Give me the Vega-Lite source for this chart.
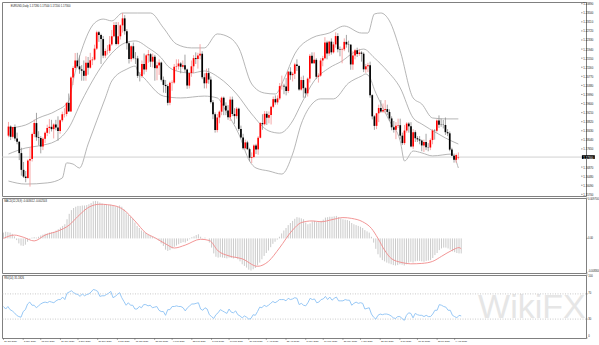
{
"$schema":"https://vega.github.io/schema/vega-lite/v6.json",
"background":"white",
"padding":{"left":1,"top":1,"right":0,"bottom":0},
"spacing":2,
"bounds":"flush",
"resolve":{"scale":{"x":"independent","y":"independent"}},
"config":{
 "view":{"stroke":"#808080","strokeWidth":1},
 "text":{"font":"Liberation Sans"}
},
"datasets":{
"bars":[
{"i":0,"open":1.1822,"high":1.1881,"low":1.1815,"close":1.1861,"macd":0.0014,"rsi":50},
{"i":1,"open":1.1861,"high":1.1866,"low":1.1803,"close":1.1817,"macd":0.0016,"rsi":46},
{"i":2,"open":1.1817,"high":1.1860,"low":1.1810,"close":1.1859,"macd":0.0015,"rsi":50},
{"i":3,"open":1.1859,"high":1.1870,"low":1.1800,"close":1.1810,"macd":0.0014,"rsi":45},
{"i":4,"open":1.1810,"high":1.1835,"low":1.1785,"close":1.1796,"macd":0.0011,"rsi":43},
{"i":5,"open":1.1796,"high":1.1797,"low":1.1717,"close":1.1747,"macd":0.0005,"rsi":40},
{"i":6,"open":1.1747,"high":1.1770,"low":1.1650,"close":1.1675,"macd":-0.0004,"rsi":36},
{"i":7,"open":1.1675,"high":1.1709,"low":1.1640,"close":1.1646,"macd":-0.0012,"rsi":34},
{"i":8,"open":1.1646,"high":1.1670,"low":1.1622,"close":1.1640,"macd":-0.0017,"rsi":33},
{"i":9,"open":1.1640,"high":1.1720,"low":1.1637,"close":1.1715,"macd":-0.0018,"rsi":42},
{"i":10,"open":1.1715,"high":1.1770,"low":1.1603,"close":1.1722,"macd":-0.0015,"rsi":45},
{"i":11,"open":1.1722,"high":1.1835,"low":1.1711,"close":1.1829,"macd":-0.0008,"rsi":54},
{"i":12,"open":1.1829,"high":1.1891,"low":1.1815,"close":1.1876,"macd":-0.0002,"rsi":57},
{"i":13,"open":1.1876,"high":1.1920,"low":1.1800,"close":1.1815,"macd":0.0002,"rsi":52},
{"i":14,"open":1.1815,"high":1.1841,"low":1.1780,"close":1.1812,"macd":0.0003,"rsi":52},
{"i":15,"open":1.1812,"high":1.1820,"low":1.1746,"close":1.1775,"macd":0.0002,"rsi":48},
{"i":16,"open":1.1775,"high":1.1815,"low":1.1760,"close":1.1809,"macd":0.0004,"rsi":51},
{"i":17,"open":1.1809,"high":1.1840,"low":1.1790,"close":1.1834,"macd":0.0007,"rsi":54},
{"i":18,"open":1.1834,"high":1.1869,"low":1.1820,"close":1.1855,"macd":0.0009,"rsi":56},
{"i":19,"open":1.1855,"high":1.1893,"low":1.1830,"close":1.1860,"macd":0.0011,"rsi":57},
{"i":20,"open":1.1860,"high":1.1890,"low":1.1840,"close":1.1850,"macd":0.0012,"rsi":56},
{"i":21,"open":1.1850,"high":1.1875,"low":1.1810,"close":1.1870,"macd":0.0014,"rsi":58},
{"i":22,"open":1.1870,"high":1.1890,"low":1.1845,"close":1.1857,"macd":0.0015,"rsi":57},
{"i":23,"open":1.1857,"high":1.1905,"low":1.1800,"close":1.1842,"macd":0.0016,"rsi":56},
{"i":24,"open":1.1842,"high":1.1892,"low":1.1830,"close":1.1888,"macd":0.0019,"rsi":59},
{"i":25,"open":1.1888,"high":1.1925,"low":1.1880,"close":1.1914,"macd":0.0022,"rsi":61},
{"i":26,"open":1.1914,"high":1.1940,"low":1.1900,"close":1.1915,"macd":0.0026,"rsi":61},
{"i":27,"open":1.1915,"high":1.1965,"low":1.1905,"close":1.1963,"macd":0.0030,"rsi":65},
{"i":28,"open":1.1963,"high":1.2003,"low":1.1925,"close":1.1926,"macd":0.0034,"rsi":61},
{"i":29,"open":1.1926,"high":1.2077,"low":1.1925,"close":1.2072,"macd":0.0046,"rsi":71},
{"i":30,"open":1.2072,"high":1.2120,"low":1.2040,"close":1.2113,"macd":0.0059,"rsi":73},
{"i":31,"open":1.2113,"high":1.2177,"low":1.2105,"close":1.2145,"macd":0.0068,"rsi":75},
{"i":32,"open":1.2145,"high":1.2178,"low":1.2114,"close":1.2120,"macd":0.0073,"rsi":72},
{"i":33,"open":1.2120,"high":1.2167,"low":1.2088,"close":1.2107,"macd":0.0076,"rsi":70},
{"i":34,"open":1.2107,"high":1.2125,"low":1.2058,"close":1.2101,"macd":0.0078,"rsi":69},
{"i":35,"open":1.2101,"high":1.2145,"low":1.2058,"close":1.2079,"macd":0.0078,"rsi":66},
{"i":36,"open":1.2079,"high":1.2163,"low":1.2058,"close":1.2135,"macd":0.0079,"rsi":70},
{"i":37,"open":1.2135,"high":1.2160,"low":1.2084,"close":1.2114,"macd":0.0079,"rsi":67},
{"i":38,"open":1.2114,"high":1.2178,"low":1.2110,"close":1.2146,"macd":0.0080,"rsi":69},
{"i":39,"open":1.2146,"high":1.2160,"low":1.2125,"close":1.2149,"macd":0.0082,"rsi":70},
{"i":40,"open":1.2149,"high":1.2213,"low":1.2145,"close":1.2196,"macd":0.0085,"rsi":73},
{"i":41,"open":1.2196,"high":1.2273,"low":1.2190,"close":1.2266,"macd":0.0089,"rsi":77},
{"i":42,"open":1.2266,"high":1.2272,"low":1.2225,"close":1.2255,"macd":0.0090,"rsi":76},
{"i":43,"open":1.2255,"high":1.2260,"low":1.2130,"close":1.2237,"macd":0.0089,"rsi":74},
{"i":44,"open":1.2237,"high":1.2250,"low":1.2155,"close":1.2166,"macd":0.0086,"rsi":66},
{"i":45,"open":1.2166,"high":1.2196,"low":1.2155,"close":1.2186,"macd":0.0084,"rsi":67},
{"i":46,"open":1.2186,"high":1.2211,"low":1.2170,"close":1.2187,"macd":0.0082,"rsi":67},
{"i":47,"open":1.2187,"high":1.2250,"low":1.2177,"close":1.2214,"macd":0.0081,"rsi":69},
{"i":48,"open":1.2214,"high":1.2276,"low":1.2208,"close":1.2249,"macd":0.0080,"rsi":71},
{"i":49,"open":1.2249,"high":1.2310,"low":1.2245,"close":1.2298,"macd":0.0081,"rsi":74},
{"i":50,"open":1.2298,"high":1.2310,"low":1.2210,"close":1.2216,"macd":0.0078,"rsi":64},
{"i":51,"open":1.2216,"high":1.2310,"low":1.2210,"close":1.2249,"macd":0.0077,"rsi":66},
{"i":52,"open":1.2249,"high":1.2300,"low":1.2235,"close":1.2296,"macd":0.0077,"rsi":69},
{"i":53,"open":1.2296,"high":1.2349,"low":1.2265,"close":1.2326,"macd":0.0079,"rsi":72},
{"i":54,"open":1.2326,"high":1.2340,"low":1.2256,"close":1.2271,"macd":0.0076,"rsi":64},
{"i":55,"open":1.2271,"high":1.2280,"low":1.2192,"close":1.2219,"macd":0.0070,"rsi":58},
{"i":56,"open":1.2219,"high":1.2223,"low":1.2132,"close":1.2151,"macd":0.0062,"rsi":52},
{"i":57,"open":1.2151,"high":1.2210,"low":1.2140,"close":1.2206,"macd":0.0057,"rsi":56},
{"i":58,"open":1.2206,"high":1.2222,"low":1.2150,"close":1.2155,"macd":0.0052,"rsi":52},
{"i":59,"open":1.2155,"high":1.2181,"low":1.2130,"close":1.2154,"macd":0.0047,"rsi":52},
{"i":60,"open":1.2154,"high":1.2165,"low":1.2070,"close":1.2079,"macd":0.0038,"rsi":46},
{"i":61,"open":1.2079,"high":1.2095,"low":1.2055,"close":1.2078,"macd":0.0030,"rsi":46},
{"i":62,"open":1.2078,"high":1.2145,"low":1.2070,"close":1.2130,"macd":0.0025,"rsi":50},
{"i":63,"open":1.2130,"high":1.2175,"low":1.2085,"close":1.2106,"macd":0.0019,"rsi":48},
{"i":64,"open":1.2106,"high":1.2172,"low":1.2096,"close":1.2167,"macd":0.0016,"rsi":53},
{"i":65,"open":1.2167,"high":1.2190,"low":1.2135,"close":1.2172,"macd":0.0013,"rsi":53},
{"i":66,"open":1.2172,"high":1.2177,"low":1.2117,"close":1.2140,"macd":0.0009,"rsi":51},
{"i":67,"open":1.2140,"high":1.2175,"low":1.2115,"close":1.2161,"macd":0.0007,"rsi":52},
{"i":68,"open":1.2161,"high":1.2169,"low":1.2058,"close":1.2112,"macd":0.0004,"rsi":48},
{"i":69,"open":1.2112,"high":1.2140,"low":1.2060,"close":1.2124,"macd":0.0002,"rsi":49},
{"i":70,"open":1.2124,"high":1.2150,"low":1.2083,"close":1.2136,"macd":0.0001,"rsi":50},
{"i":71,"open":1.2136,"high":1.2140,"low":1.2055,"close":1.2062,"macd":-0.0005,"rsi":44},
{"i":72,"open":1.2062,"high":1.2076,"low":1.2007,"close":1.2040,"macd":-0.0012,"rsi":42},
{"i":73,"open":1.2040,"high":1.2061,"low":1.2005,"close":1.2035,"macd":-0.0018,"rsi":42},
{"i":74,"open":1.2035,"high":1.2043,"low":1.1952,"close":1.1963,"macd":-0.0027,"rsi":36},
{"i":75,"open":1.1963,"high":1.2055,"low":1.1953,"close":1.2049,"macd":-0.0030,"rsi":45},
{"i":76,"open":1.2049,"high":1.2060,"low":1.2015,"close":1.2050,"macd":-0.0028,"rsi":45},
{"i":77,"open":1.2050,"high":1.2130,"low":1.2045,"close":1.2118,"macd":-0.0024,"rsi":50},
{"i":78,"open":1.2118,"high":1.2150,"low":1.2100,"close":1.2120,"macd":-0.0020,"rsi":50},
{"i":79,"open":1.2120,"high":1.2150,"low":1.2106,"close":1.2132,"macd":-0.0017,"rsi":51},
{"i":80,"open":1.2132,"high":1.2138,"low":1.2090,"close":1.2118,"macd":-0.0014,"rsi":50},
{"i":81,"open":1.2118,"high":1.2145,"low":1.2110,"close":1.2125,"macd":-0.0011,"rsi":50},
{"i":82,"open":1.2125,"high":1.2170,"low":1.2095,"close":1.2106,"macd":-0.0009,"rsi":48},
{"i":83,"open":1.2106,"high":1.2110,"low":1.2023,"close":1.2037,"macd":-0.0010,"rsi":43},
{"i":84,"open":1.2037,"high":1.2093,"low":1.2025,"close":1.2091,"macd":-0.0006,"rsi":48},
{"i":85,"open":1.2091,"high":1.2145,"low":1.2075,"close":1.2120,"macd":-0.0002,"rsi":51},
{"i":86,"open":1.2120,"high":1.2168,"low":1.2090,"close":1.2155,"macd":0.0003,"rsi":54},
{"i":87,"open":1.2155,"high":1.2180,"low":1.2130,"close":1.2151,"macd":0.0005,"rsi":54},
{"i":88,"open":1.2151,"high":1.2178,"low":1.2110,"close":1.2166,"macd":0.0008,"rsi":55},
{"i":89,"open":1.2166,"high":1.2215,"low":1.2150,"close":1.2174,"macd":0.0010,"rsi":56},
{"i":90,"open":1.2174,"high":1.2185,"low":1.2065,"close":1.2073,"macd":0.0004,"rsi":46},
{"i":91,"open":1.2073,"high":1.2090,"low":1.2025,"close":1.2047,"macd":0.0001,"rsi":44},
{"i":92,"open":1.2047,"high":1.2110,"low":1.2025,"close":1.2091,"macd":0.0002,"rsi":48},
{"i":93,"open":1.2091,"high":1.2112,"low":1.2045,"close":1.2063,"macd":0.0000,"rsi":46},
{"i":94,"open":1.2063,"high":1.2076,"low":1.1960,"close":1.1966,"macd":-0.0010,"rsi":37},
{"i":95,"open":1.1966,"high":1.1975,"low":1.1893,"close":1.1914,"macd":-0.0022,"rsi":34},
{"i":96,"open":1.1914,"high":1.1922,"low":1.1835,"close":1.1846,"macd":-0.0036,"rsi":31},
{"i":97,"open":1.1846,"high":1.1915,"low":1.1836,"close":1.1900,"macd":-0.0044,"rsi":37},
{"i":98,"open":1.1900,"high":1.1930,"low":1.1875,"close":1.1925,"macd":-0.0046,"rsi":40},
{"i":99,"open":1.1925,"high":1.1990,"low":1.1910,"close":1.1985,"macd":-0.0045,"rsi":45},
{"i":100,"open":1.1985,"high":1.1990,"low":1.1910,"close":1.1951,"macd":-0.0046,"rsi":43},
{"i":101,"open":1.1951,"high":1.1965,"low":1.1910,"close":1.1930,"macd":-0.0047,"rsi":41},
{"i":102,"open":1.1930,"high":1.1953,"low":1.1890,"close":1.1901,"macd":-0.0048,"rsi":39},
{"i":103,"open":1.1901,"high":1.1990,"low":1.1885,"close":1.1977,"macd":-0.0046,"rsi":46},
{"i":104,"open":1.1977,"high":1.1990,"low":1.1906,"close":1.1915,"macd":-0.0047,"rsi":41},
{"i":105,"open":1.1915,"high":1.1940,"low":1.1873,"close":1.1906,"macd":-0.0048,"rsi":40},
{"i":106,"open":1.1906,"high":1.1945,"low":1.1895,"close":1.1938,"macd":-0.0047,"rsi":43},
{"i":107,"open":1.1938,"high":1.1942,"low":1.1843,"close":1.1851,"macd":-0.0050,"rsi":37},
{"i":108,"open":1.1851,"high":1.1865,"low":1.1810,"close":1.1814,"macd":-0.0055,"rsi":35},
{"i":109,"open":1.1814,"high":1.1830,"low":1.1762,"close":1.1768,"macd":-0.0062,"rsi":32},
{"i":110,"open":1.1768,"high":1.1805,"low":1.1763,"close":1.1793,"macd":-0.0066,"rsi":35},
{"i":111,"open":1.1793,"high":1.1800,"low":1.1760,"close":1.1764,"macd":-0.0070,"rsi":33},
{"i":112,"open":1.1764,"high":1.1770,"low":1.1712,"close":1.1727,"macd":-0.0075,"rsi":30},
{"i":113,"open":1.1727,"high":1.1750,"low":1.1704,"close":1.1730,"macd":-0.0077,"rsi":31},
{"i":114,"open":1.1730,"high":1.1785,"low":1.1725,"close":1.1780,"macd":-0.0074,"rsi":37},
{"i":115,"open":1.1780,"high":1.1787,"low":1.1743,"close":1.1763,"macd":-0.0071,"rsi":36},
{"i":116,"open":1.1763,"high":1.1820,"low":1.1740,"close":1.1813,"macd":-0.0065,"rsi":42},
{"i":117,"open":1.1813,"high":1.1880,"low":1.1810,"close":1.1876,"macd":-0.0058,"rsi":49},
{"i":118,"open":1.1876,"high":1.1914,"low":1.1847,"close":1.1871,"macd":-0.0050,"rsi":48},
{"i":119,"open":1.1871,"high":1.1928,"low":1.1865,"close":1.1916,"macd":-0.0042,"rsi":52},
{"i":120,"open":1.1916,"high":1.1927,"low":1.1868,"close":1.1899,"macd":-0.0035,"rsi":50},
{"i":121,"open":1.1899,"high":1.1926,"low":1.1875,"close":1.1911,"macd":-0.0029,"rsi":52},
{"i":122,"open":1.1911,"high":1.1950,"low":1.1870,"close":1.1946,"macd":-0.0021,"rsi":55},
{"i":123,"open":1.1946,"high":1.1990,"low":1.1940,"close":1.1979,"macd":-0.0013,"rsi":58},
{"i":124,"open":1.1979,"high":1.1995,"low":1.1955,"close":1.1965,"macd":-0.0008,"rsi":56},
{"i":125,"open":1.1965,"high":1.1995,"low":1.1955,"close":1.1982,"macd":-0.0003,"rsi":58},
{"i":126,"open":1.1982,"high":1.2048,"low":1.1975,"close":1.2035,"macd":0.0004,"rsi":61},
{"i":127,"open":1.2035,"high":1.2080,"low":1.2020,"close":1.2036,"macd":0.0012,"rsi":61},
{"i":128,"open":1.2036,"high":1.2045,"low":1.2000,"close":1.2033,"macd":0.0019,"rsi":61},
{"i":129,"open":1.2033,"high":1.2070,"low":1.1995,"close":1.2014,"macd":0.0025,"rsi":59},
{"i":130,"open":1.2014,"high":1.2100,"low":1.2005,"close":1.2097,"macd":0.0032,"rsi":63},
{"i":131,"open":1.2097,"high":1.2116,"low":1.2062,"close":1.2082,"macd":0.0037,"rsi":61},
{"i":132,"open":1.2082,"high":1.2095,"low":1.2055,"close":1.2088,"macd":0.0042,"rsi":62},
{"i":133,"open":1.2088,"high":1.2135,"low":1.2065,"close":1.2128,"macd":0.0047,"rsi":64},
{"i":134,"open":1.2128,"high":1.2150,"low":1.2100,"close":1.2121,"macd":0.0051,"rsi":63},
{"i":135,"open":1.2121,"high":1.2125,"low":1.2015,"close":1.2020,"macd":0.0050,"rsi":53},
{"i":136,"open":1.2020,"high":1.2075,"low":1.2015,"close":1.2061,"macd":0.0048,"rsi":55},
{"i":137,"open":1.2061,"high":1.2080,"low":1.1985,"close":1.2026,"macd":0.0046,"rsi":52},
{"i":138,"open":1.2026,"high":1.2030,"low":1.1985,"close":1.2004,"macd":0.0038,"rsi":51},
{"i":139,"open":1.2004,"high":1.2072,"low":1.1990,"close":1.2067,"macd":0.0034,"rsi":56},
{"i":140,"open":1.2067,"high":1.2173,"low":1.2050,"close":1.2165,"macd":0.0036,"rsi":63},
{"i":141,"open":1.2165,"high":1.2180,"low":1.2130,"close":1.2133,"macd":0.0041,"rsi":61},
{"i":142,"open":1.2133,"high":1.2180,"low":1.2130,"close":1.2148,"macd":0.0042,"rsi":62},
{"i":143,"open":1.2148,"high":1.2155,"low":1.2065,"close":1.2075,"macd":0.0040,"rsi":56},
{"i":144,"open":1.2075,"high":1.2090,"low":1.2050,"close":1.2080,"macd":0.0039,"rsi":57},
{"i":145,"open":1.2080,"high":1.2155,"low":1.2075,"close":1.2145,"macd":0.0042,"rsi":61},
{"i":146,"open":1.2145,"high":1.2165,"low":1.2120,"close":1.2155,"macd":0.0045,"rsi":62},
{"i":147,"open":1.2155,"high":1.2245,"low":1.2150,"close":1.2222,"macd":0.0050,"rsi":66},
{"i":148,"open":1.2222,"high":1.2230,"low":1.2150,"close":1.2175,"macd":0.0051,"rsi":61},
{"i":149,"open":1.2175,"high":1.2230,"low":1.2165,"close":1.2226,"macd":0.0052,"rsi":65},
{"i":150,"open":1.2226,"high":1.2240,"low":1.2170,"close":1.2180,"macd":0.0052,"rsi":60},
{"i":151,"open":1.2180,"high":1.2225,"low":1.2175,"close":1.2214,"macd":0.0053,"rsi":63},
{"i":152,"open":1.2214,"high":1.2266,"low":1.2200,"close":1.2250,"macd":0.0054,"rsi":65},
{"i":153,"open":1.2250,"high":1.2262,"low":1.2180,"close":1.2193,"macd":0.0051,"rsi":59},
{"i":154,"open":1.2193,"high":1.2205,"low":1.2163,"close":1.2191,"macd":0.0048,"rsi":59},
{"i":155,"open":1.2191,"high":1.2200,"low":1.2133,"close":1.2193,"macd":0.0046,"rsi":59},
{"i":156,"open":1.2193,"high":1.2240,"low":1.2185,"close":1.2225,"macd":0.0045,"rsi":61},
{"i":157,"open":1.2225,"high":1.2255,"low":1.2200,"close":1.2214,"macd":0.0044,"rsi":60},
{"i":158,"open":1.2214,"high":1.2230,"low":1.2180,"close":1.2213,"macd":0.0042,"rsi":60},
{"i":159,"open":1.2213,"high":1.2215,"low":1.2105,"close":1.2128,"macd":0.0037,"rsi":52},
{"i":160,"open":1.2128,"high":1.2185,"low":1.2105,"close":1.2166,"macd":0.0034,"rsi":55},
{"i":161,"open":1.2166,"high":1.2195,"low":1.2150,"close":1.2189,"macd":0.0032,"rsi":57},
{"i":162,"open":1.2189,"high":1.2200,"low":1.2160,"close":1.2173,"macd":0.0030,"rsi":55},
{"i":163,"open":1.2173,"high":1.2195,"low":1.2165,"close":1.2179,"macd":0.0028,"rsi":56},
{"i":164,"open":1.2179,"high":1.2185,"low":1.2140,"close":1.2174,"macd":0.0025,"rsi":55},
{"i":165,"open":1.2174,"high":1.2180,"low":1.2095,"close":1.2107,"macd":0.0020,"rsi":46},
{"i":166,"open":1.2107,"high":1.2130,"low":1.2092,"close":1.2120,"macd":0.0017,"rsi":47},
{"i":167,"open":1.2120,"high":1.2135,"low":1.2095,"close":1.2125,"macd":0.0014,"rsi":48},
{"i":168,"open":1.2125,"high":1.2140,"low":1.1985,"close":1.1996,"macd":0.0004,"rsi":38},
{"i":169,"open":1.1996,"high":1.2000,"low":1.1892,"close":1.1905,"macd":-0.0010,"rsi":33},
{"i":170,"open":1.1905,"high":1.1910,"low":1.1847,"close":1.1864,"macd":-0.0025,"rsi":30},
{"i":171,"open":1.1864,"high":1.1920,"low":1.1850,"close":1.1918,"macd":-0.0038,"rsi":36},
{"i":172,"open":1.1918,"high":1.1955,"low":1.1880,"close":1.1941,"macd":-0.0046,"rsi":38},
{"i":173,"open":1.1941,"high":1.1975,"low":1.1920,"close":1.1926,"macd":-0.0052,"rsi":37},
{"i":174,"open":1.1926,"high":1.1960,"low":1.1920,"close":1.1932,"macd":-0.0055,"rsi":38},
{"i":175,"open":1.1932,"high":1.1975,"low":1.1918,"close":1.1936,"macd":-0.0058,"rsi":38},
{"i":176,"open":1.1936,"high":1.1955,"low":1.1910,"close":1.1924,"macd":-0.0060,"rsi":37},
{"i":177,"open":1.1924,"high":1.1935,"low":1.1885,"close":1.1896,"macd":-0.0062,"rsi":35},
{"i":178,"open":1.1896,"high":1.1905,"low":1.1845,"close":1.1858,"macd":-0.0064,"rsi":32},
{"i":179,"open":1.1858,"high":1.1885,"low":1.1835,"close":1.1847,"macd":-0.0065,"rsi":31},
{"i":180,"open":1.1847,"high":1.1880,"low":1.1807,"close":1.1865,"macd":-0.0064,"rsi":34},
{"i":181,"open":1.1865,"high":1.1895,"low":1.1855,"close":1.1867,"macd":-0.0062,"rsi":34},
{"i":182,"open":1.1867,"high":1.1895,"low":1.1806,"close":1.1822,"macd":-0.0063,"rsi":31},
{"i":183,"open":1.1822,"high":1.1835,"low":1.1782,"close":1.1790,"macd":-0.0065,"rsi":28},
{"i":184,"open":1.1790,"high":1.1868,"low":1.1782,"close":1.1844,"macd":-0.0062,"rsi":36},
{"i":185,"open":1.1844,"high":1.1880,"low":1.1835,"close":1.1874,"macd":-0.0058,"rsi":40},
{"i":186,"open":1.1874,"high":1.1880,"low":1.1835,"close":1.1862,"macd":-0.0056,"rsi":39},
{"i":187,"open":1.1862,"high":1.1880,"low":1.1772,"close":1.1775,"macd":-0.0058,"rsi":32},
{"i":188,"open":1.1775,"high":1.1850,"low":1.1765,"close":1.1837,"macd":-0.0055,"rsi":39},
{"i":189,"open":1.1837,"high":1.1845,"low":1.1795,"close":1.1811,"macd":-0.0054,"rsi":37},
{"i":190,"open":1.1811,"high":1.1820,"low":1.1795,"close":1.1806,"macd":-0.0054,"rsi":36},
{"i":191,"open":1.1806,"high":1.1820,"low":1.1785,"close":1.1801,"macd":-0.0055,"rsi":36},
{"i":192,"open":1.1801,"high":1.1805,"low":1.1755,"close":1.1780,"macd":-0.0056,"rsi":34},
{"i":193,"open":1.1780,"high":1.1805,"low":1.1752,"close":1.1795,"macd":-0.0054,"rsi":36},
{"i":194,"open":1.1795,"high":1.1830,"low":1.1760,"close":1.1772,"macd":-0.0053,"rsi":34},
{"i":195,"open":1.1772,"high":1.1790,"low":1.1755,"close":1.1771,"macd":-0.0052,"rsi":34},
{"i":196,"open":1.1771,"high":1.1810,"low":1.1760,"close":1.1803,"macd":-0.0047,"rsi":38},
{"i":197,"open":1.1803,"high":1.1850,"low":1.1785,"close":1.1844,"macd":-0.0040,"rsi":44},
{"i":198,"open":1.1844,"high":1.1850,"low":1.1805,"close":1.1843,"macd":-0.0035,"rsi":44},
{"i":199,"open":1.1843,"high":1.1892,"low":1.1835,"close":1.1887,"macd":-0.0028,"rsi":53},
{"i":200,"open":1.1887,"high":1.1909,"low":1.1855,"close":1.1869,"macd":-0.0024,"rsi":52},
{"i":201,"open":1.1870,"high":1.1895,"low":1.1860,"close":1.1869,"macd":-0.0022,"rsi":50},
{"i":202,"open":1.1869,"high":1.1890,"low":1.1853,"close":1.1868,"macd":-0.0022,"rsi":49},
{"i":203,"open":1.1868,"high":1.1900,"low":1.1825,"close":1.1837,"macd":-0.0024,"rsi":44},
{"i":204,"open":1.1837,"high":1.1850,"low":1.1820,"close":1.1832,"macd":-0.0027,"rsi":44},
{"i":205,"open":1.1832,"high":1.1840,"low":1.1755,"close":1.1762,"macd":-0.0031,"rsi":36},
{"i":206,"open":1.1762,"high":1.1770,"low":1.1734,"close":1.1736,"macd":-0.0033,"rsi":34},
{"i":207,"open":1.1736,"high":1.1745,"low":1.1706,"close":1.1718,"macd":-0.0035,"rsi":32},
{"i":208,"open":1.1718,"high":1.1745,"low":1.1705,"close":1.1739,"macd":-0.0036,"rsi":36},
{"i":209,"open":1.1728,"high":1.1750,"low":1.1720,"close":1.1730,"macd":-0.0036,"rsi":35}
],
"bands":[
{"i":0,"band":"upper","v":1.1855},{"i":8,"band":"upper","v":1.1868},{"i":14,"band":"upper","v":1.1898},{"i":22,"band":"upper","v":1.1928},{"i":28,"band":"upper","v":1.1971},{"i":30,"band":"upper","v":1.2057},{"i":34,"band":"upper","v":1.2190},{"i":40,"band":"upper","v":1.2306},{"i":44,"band":"upper","v":1.2323},{"i":48,"band":"upper","v":1.2315},{"i":53,"band":"upper","v":1.2349},{"i":60,"band":"upper","v":1.2349},{"i":66,"band":"upper","v":1.2349},{"i":72,"band":"upper","v":1.2285},{"i":78,"band":"upper","v":1.2216},{"i":85,"band":"upper","v":1.2199},{"i":91,"band":"upper","v":1.2199},{"i":97,"band":"upper","v":1.2259},{"i":103,"band":"upper","v":1.2242},{"i":107,"band":"upper","v":1.2199},{"i":113,"band":"upper","v":1.2044},{"i":119,"band":"upper","v":1.2005},{"i":124,"band":"upper","v":1.2001},{"i":128,"band":"upper","v":1.2065},{"i":133,"band":"upper","v":1.2173},{"i":141,"band":"upper","v":1.2242},{"i":149,"band":"upper","v":1.2263},{"i":156,"band":"upper","v":1.2293},{"i":164,"band":"upper","v":1.2263},{"i":167,"band":"upper","v":1.2263},{"i":170,"band":"upper","v":1.2345},{"i":173,"band":"upper","v":1.2349},{"i":177,"band":"upper","v":1.2315},{"i":182,"band":"upper","v":1.2186},{"i":188,"band":"upper","v":1.1984},{"i":192,"band":"upper","v":1.1958},{"i":197,"band":"upper","v":1.1898},{"i":203,"band":"upper","v":1.1894},{"i":209,"band":"upper","v":1.1894},
{"i":0,"band":"middle","v":1.1743},{"i":8,"band":"middle","v":1.1769},{"i":14,"band":"middle","v":1.1778},{"i":22,"band":"middle","v":1.1799},{"i":28,"band":"middle","v":1.1855},{"i":34,"band":"middle","v":1.1971},{"i":44,"band":"middle","v":1.2130},{"i":49,"band":"middle","v":1.2186},{"i":54,"band":"middle","v":1.2220},{"i":59,"band":"middle","v":1.2229},{"i":65,"band":"middle","v":1.2199},{"i":71,"band":"middle","v":1.2156},{"i":74,"band":"middle","v":1.2121},{"i":78,"band":"middle","v":1.2100},{"i":85,"band":"middle","v":1.2091},{"i":91,"band":"middle","v":1.2100},{"i":98,"band":"middle","v":1.2070},{"i":106,"band":"middle","v":1.2001},{"i":113,"band":"middle","v":1.1915},{"i":121,"band":"middle","v":1.1842},{"i":126,"band":"middle","v":1.1833},{"i":132,"band":"middle","v":1.1885},{"i":136,"band":"middle","v":1.1958},{"i":142,"band":"middle","v":1.2057},{"i":149,"band":"middle","v":1.2113},{"i":155,"band":"middle","v":1.2143},{"i":160,"band":"middle","v":1.2177},{"i":165,"band":"middle","v":1.2194},{"i":170,"band":"middle","v":1.2156},{"i":176,"band":"middle","v":1.2100},{"i":182,"band":"middle","v":1.2027},{"i":188,"band":"middle","v":1.1898},{"i":192,"band":"middle","v":1.1872},{"i":199,"band":"middle","v":1.1833},{"i":203,"band":"middle","v":1.1812},{"i":209,"band":"middle","v":1.1786},
{"i":0,"band":"lower","v":1.1627},{"i":8,"band":"lower","v":1.1614},{"i":18,"band":"lower","v":1.1619},{"i":25,"band":"lower","v":1.1640},{"i":27,"band":"lower","v":1.1705},{"i":30,"band":"lower","v":1.1700},{"i":33,"band":"lower","v":1.1683},{"i":37,"band":"lower","v":1.1786},{"i":45,"band":"lower","v":1.1984},{"i":48,"band":"lower","v":1.2057},{"i":55,"band":"lower","v":1.2108},{"i":59,"band":"lower","v":1.2121},{"i":60,"band":"lower","v":1.2100},{"i":63,"band":"lower","v":1.2070},{"i":72,"band":"lower","v":1.1992},{"i":80,"band":"lower","v":1.1984},{"i":91,"band":"lower","v":1.1992},{"i":97,"band":"lower","v":1.1984},{"i":101,"band":"lower","v":1.1928},{"i":107,"band":"lower","v":1.1829},{"i":112,"band":"lower","v":1.1713},{"i":115,"band":"lower","v":1.1683},{"i":121,"band":"lower","v":1.1670},{"i":127,"band":"lower","v":1.1657},{"i":132,"band":"lower","v":1.1743},{"i":136,"band":"lower","v":1.1872},{"i":141,"band":"lower","v":1.1958},{"i":145,"band":"lower","v":1.1980},{"i":151,"band":"lower","v":1.1980},{"i":158,"band":"lower","v":1.2048},{"i":164,"band":"lower","v":1.2078},{"i":166,"band":"lower","v":1.2087},{"i":168,"band":"lower","v":1.2070},{"i":170,"band":"lower","v":1.2020},{"i":173,"band":"lower","v":1.1960},{"i":177,"band":"lower","v":1.1885},{"i":182,"band":"lower","v":1.1799},{"i":184,"band":"lower","v":1.1713},{"i":188,"band":"lower","v":1.1756},{"i":192,"band":"lower","v":1.1748},{"i":197,"band":"lower","v":1.1735},{"i":206,"band":"lower","v":1.1743},{"i":209,"band":"lower","v":1.1683}
],
"signal":[
{"i":0,"v":0.0000},{"i":5,"v":0.0008},{"i":9,"v":0.0003},{"i":14,"v":-0.0006},{"i":19,"v":0.0008},{"i":25,"v":0.0018},{"i":30,"v":0.0032},{"i":34,"v":0.0053},{"i":39,"v":0.0075},{"i":44,"v":0.0082},{"i":51,"v":0.0078},{"i":55,"v":0.0068},{"i":60,"v":0.0042},{"i":65,"v":0.0013},{"i":69,"v":0.0002},{"i":74,"v":-0.0013},{"i":78,"v":-0.0023},{"i":83,"v":-0.0016},{"i":90,"v":-0.0002},{"i":94,"v":-0.0005},{"i":98,"v":-0.0030},{"i":103,"v":-0.0042},{"i":109,"v":-0.0049},{"i":116,"v":-0.0067},{"i":121,"v":-0.0055},{"i":126,"v":-0.0023},{"i":132,"v":0.0020},{"i":136,"v":0.0038},{"i":141,"v":0.0042},{"i":145,"v":0.0040},{"i":150,"v":0.0045},{"i":155,"v":0.0050},{"i":159,"v":0.0048},{"i":164,"v":0.0040},{"i":168,"v":0.0024},{"i":171,"v":0.0000},{"i":174,"v":-0.0028},{"i":177,"v":-0.0048},{"i":182,"v":-0.0058},{"i":186,"v":-0.0061},{"i":191,"v":-0.0060},{"i":196,"v":-0.0055},{"i":200,"v":-0.0043},{"i":205,"v":-0.0028},{"i":208,"v":-0.0022},{"i":209,"v":-0.0025}
],
"levels":[{"lvl":70},{"lvl":30}],
"yticks":[{"v":1.2389},{"v":1.2350},{"v":1.2311},{"v":1.2272},{"v":1.2233},{"v":1.2194},{"v":1.2155},{"v":1.2116},{"v":1.2077},{"v":1.2038},{"v":1.1999},{"v":1.1960},{"v":1.1921},{"v":1.1882},{"v":1.1843},{"v":1.1804},{"v":1.1765},{"v":1.1687},{"v":1.1648},{"v":1.1609},{"v":1.1570}],
"macdticks":[{"v":0.0097,"label":"0.009700"},{"v":0,"label":"0.00"},{"v":-0.0083,"label":"-0.008300"}],
"rsiticks":[{"v":100},{"v":70},{"v":30},{"v":0}],
"xticks":[{"i":0,"label":"21 Oct 2020"},{"i":9,"label":"3 Nov 2020"},{"i":17,"label":"13 Nov 2020"},{"i":26,"label":"26 Nov 2020"},{"i":34,"label":"8 Dec 2020"},{"i":43,"label":"21 Dec 2020"},{"i":52,"label":"5 Jan 2021"},{"i":60,"label":"15 Jan 2021"},{"i":69,"label":"28 Jan 2021"},{"i":77,"label":"9 Feb 2021"},{"i":86,"label":"22 Feb 2021"},{"i":95,"label":"5 Mar 2021"},{"i":103,"label":"17 Mar 2021"},{"i":112,"label":"30 Mar 2021"},{"i":120,"label":"9 Apr 2021"},{"i":129,"label":"22 Apr 2021"},{"i":138,"label":"5 May 2021"},{"i":146,"label":"17 May 2021"},{"i":155,"label":"28 May 2021"},{"i":163,"label":"9 Jun 2021"},{"i":172,"label":"22 Jun 2021"},{"i":181,"label":"5 Jul 2021"},{"i":189,"label":"15 Jul 2021"},{"i":198,"label":"28 Jul 2021"},{"i":206,"label":"9 Aug 2021"}]
},
"vconcat":[
{
 "width":584,"height":194,
 "layer":[
  {"data":{"name":"bands"},"mark":{"type":"line","color":"#a3a3a3","strokeWidth":0.8,"interpolate":"monotone"},
   "encoding":{
    "x":{"field":"i","type":"quantitative","scale":{"domain":[-0.685,265.98],"nice":false,"zero":false},"axis":null},
    "y":{"field":"v","type":"quantitative","scale":{"domain":[1.15627,1.23963],"nice":false,"zero":false},"axis":null},
    "detail":{"field":"band"}}},
  {"data":{"values":[{}]},"mark":{"type":"rule","color":"#c4c4c4","strokeWidth":0.8},"encoding":{"y":{"datum":1.1730,"type":"quantitative"}}},
  {"data":{"name":"bars"},"mark":{"type":"rule","strokeWidth":0.8},
   "encoding":{"x":{"field":"i","type":"quantitative"},"y":{"field":"low","type":"quantitative"},"y2":{"field":"high"},
    "color":{"condition":{"test":"datum.close >= datum.open","value":"#f29090"},"value":"#8c8c8c"}}},
  {"data":{"name":"bars"},"mark":{"type":"bar","size":1.7},
   "encoding":{"x":{"field":"i","type":"quantitative"},"y":{"field":"open","type":"quantitative"},"y2":{"field":"close"},
    "color":{"condition":{"test":"datum.close >= datum.open","value":"#ff0000"},"value":"#000000"}}},
  {"data":{"name":"yticks"},"mark":{"type":"rule","color":"#666666","strokeWidth":0.6},
   "encoding":{"x":{"datum":265.98,"type":"quantitative"},"x2":{"datum":266.75},"y":{"field":"v","type":"quantitative"}}},
  {"data":{"name":"yticks"},"mark":{"type":"text","align":"left","baseline":"middle","fontSize":2.8,"color":"#222222"},
   "encoding":{"x":{"datum":267.05,"type":"quantitative"},"y":{"field":"v","type":"quantitative"},"text":{"field":"v","type":"quantitative","format":".5f"}}},
  {"data":{"values":[{}]},"mark":{"type":"text","align":"left","baseline":"middle","fontSize":2.7,"color":"#222222"},
   "encoding":{"x":{"datum":1,"type":"quantitative"},"y":{"datum":1.2379,"type":"quantitative"},"text":{"value":"EURUSD,Daily  1.17280 1.17500 1.17200 1.17300"}}},
  {"data":{"values":[{}]},"mark":{"type":"rect","color":"#000000"},
   "encoding":{"x":{"datum":266.4,"type":"quantitative"},"x2":{"datum":272.4},"y":{"datum":1.1738,"type":"quantitative"},"y2":{"datum":1.1722}}},
  {"data":{"values":[{}]},"mark":{"type":"text","align":"left","baseline":"middle","fontSize":2.8,"color":"#ffffff"},
   "encoding":{"x":{"datum":267.05,"type":"quantitative"},"y":{"datum":1.1730,"type":"quantitative"},"text":{"value":"1.17300"}}}
 ]
},
{
 "width":584,"height":75,
 "layer":[
  {"data":{"name":"bars"},"mark":{"type":"rule","color":"#c4c4c4","strokeWidth":0.9},
   "encoding":{
    "x":{"field":"i","type":"quantitative","scale":{"domain":[-0.685,265.98],"nice":false,"zero":false},"axis":null},
    "y":{"field":"macd","type":"quantitative","scale":{"domain":[-0.0083,0.0097],"nice":false,"zero":false},"axis":null},
    "y2":{"datum":0}}},
  {"data":{"name":"signal"},"mark":{"type":"line","color":"#f08a8a","strokeWidth":0.9,"interpolate":"monotone"},
   "encoding":{"x":{"field":"i","type":"quantitative"},"y":{"field":"v","type":"quantitative"}}},
  {"data":{"name":"macdticks"},"mark":{"type":"rule","color":"#666666","strokeWidth":0.6},
   "encoding":{"x":{"datum":265.98,"type":"quantitative"},"x2":{"datum":266.75},"y":{"field":"v","type":"quantitative"}}},
  {"data":{"name":"macdticks"},"transform":[{"filter":"datum.v > 0"}],"mark":{"type":"text","align":"left","baseline":"top","fontSize":2.6,"color":"#222222"},
   "encoding":{"x":{"datum":266.9,"type":"quantitative"},"y":{"field":"v","type":"quantitative"},"text":{"field":"label"}}},
  {"data":{"name":"macdticks"},"transform":[{"filter":"datum.v == 0"}],"mark":{"type":"text","align":"left","baseline":"middle","fontSize":2.6,"color":"#222222"},
   "encoding":{"x":{"datum":266.9,"type":"quantitative"},"y":{"field":"v","type":"quantitative"},"text":{"field":"label"}}},
  {"data":{"name":"macdticks"},"transform":[{"filter":"datum.v < 0"}],"mark":{"type":"text","align":"left","baseline":"bottom","fontSize":2.6,"color":"#222222"},
   "encoding":{"x":{"datum":266.9,"type":"quantitative"},"y":{"field":"v","type":"quantitative"},"text":{"field":"label"}}},
  {"data":{"values":[{}]},"mark":{"type":"text","align":"left","baseline":"middle","fontSize":2.6,"color":"#222222"},
   "encoding":{"x":{"datum":0.3,"type":"quantitative"},"y":{"datum":0.0090,"type":"quantitative"},"text":{"value":"MACD(12,26,9) -0.003612 -0.002503"}}}
 ]
},
{
 "width":584,"height":63,
 "layer":[
  {"data":{"values":[{}]},"mark":{"type":"text","align":"center","baseline":"middle","fontSize":34,"font":"Liberation Sans","color":"#e6e6e6"},
   "encoding":{"x":{"datum":241.3,"type":"quantitative","scale":{"domain":[-0.685,265.98],"nice":false,"zero":false},"axis":null},"y":{"datum":47,"type":"quantitative","scale":{"domain":[0,100],"nice":false,"zero":false},"axis":null},"text":{"value":"WikiFX"}}},
  {"data":{"name":"levels"},"mark":{"type":"rule","color":"#b5b5b5","strokeWidth":0.7,"strokeDash":[1,1.5]},
   "encoding":{"y":{"field":"lvl","type":"quantitative"}}},
  {"data":{"name":"bars"},"mark":{"type":"line","color":"#8cc2f4","strokeWidth":0.9},
   "encoding":{"x":{"field":"i","type":"quantitative"},"y":{"field":"rsi","type":"quantitative"}}},
  {"data":{"name":"rsiticks"},"mark":{"type":"rule","color":"#666666","strokeWidth":0.6},
   "encoding":{"x":{"datum":265.98,"type":"quantitative"},"x2":{"datum":266.75},"y":{"field":"v","type":"quantitative"}}},
  {"data":{"name":"rsiticks"},"transform":[{"filter":"datum.v == 100"}],"mark":{"type":"text","align":"left","baseline":"top","fontSize":2.7,"color":"#222222"},
   "encoding":{"x":{"datum":267.05,"type":"quantitative"},"y":{"field":"v","type":"quantitative"},"text":{"field":"v","type":"quantitative"}}},
  {"data":{"name":"rsiticks"},"transform":[{"filter":"datum.v > 0 && datum.v < 100"}],"mark":{"type":"text","align":"left","baseline":"middle","fontSize":2.7,"color":"#222222"},
   "encoding":{"x":{"datum":267.05,"type":"quantitative"},"y":{"field":"v","type":"quantitative"},"text":{"field":"v","type":"quantitative"}}},
  {"data":{"name":"rsiticks"},"transform":[{"filter":"datum.v == 0"}],"mark":{"type":"text","align":"left","baseline":"bottom","fontSize":2.7,"color":"#222222"},
   "encoding":{"x":{"datum":267.05,"type":"quantitative"},"y":{"field":"v","type":"quantitative"},"text":{"field":"v","type":"quantitative"}}},
  {"data":{"name":"xticks"},"mark":{"type":"rule","color":"#666666","strokeWidth":0.6},
   "encoding":{"x":{"field":"i","type":"quantitative"},"y":{"datum":0,"type":"quantitative"},"y2":{"datum":-3}}},
  {"data":{"name":"xticks"},"mark":{"type":"text","align":"left","baseline":"top","fontSize":2.3,"color":"#222222","dx":0.8},
   "encoding":{"x":{"field":"i","type":"quantitative"},"y":{"datum":-3.5,"type":"quantitative"},"text":{"field":"label"}}},
  {"data":{"values":[{}]},"mark":{"type":"text","align":"left","baseline":"middle","fontSize":2.7,"color":"#222222"},
   "encoding":{"x":{"datum":0.3,"type":"quantitative"},"y":{"datum":95,"type":"quantitative"},"text":{"value":"RSI(14) 35.1826"}}}
 ]
}
]
}
